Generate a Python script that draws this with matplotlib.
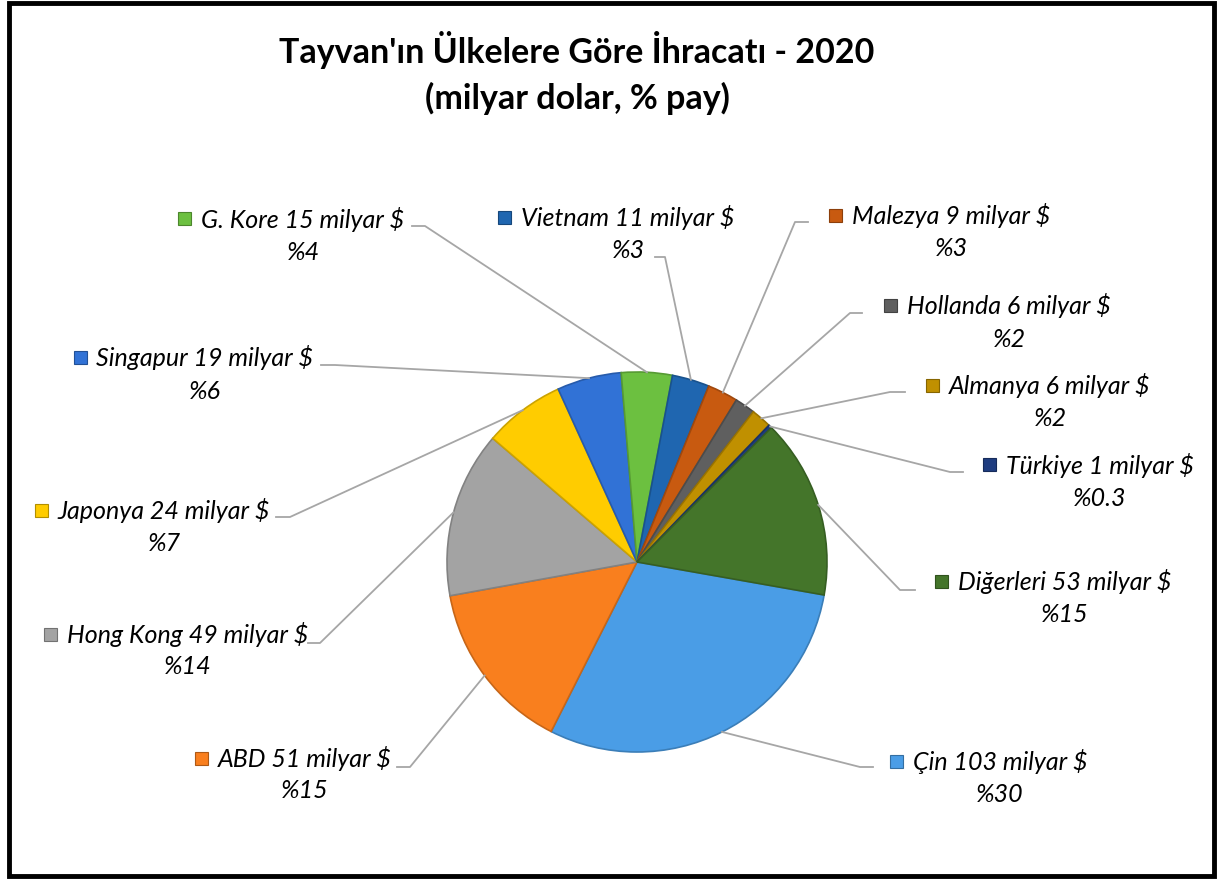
import matplotlib.pyplot as plt
import matplotlib.colors as mcolors
import numpy as np

W, H = 1223, 880

# data, in pie order (clockwise)
countries = ["Çin", "ABD", "Hong Kong", "Japonya", "Singapur", "G. Kore",
             "Vietnam", "Malezya", "Hollanda", "Almanya", "Türkiye", "Diğerleri"]
values = [103, 51, 49, 24, 19, 15, 11, 9, 6, 6, 1, 53]
shares = ["30", "15", "14", "7", "6", "4", "3", "3", "2", "2", "0.3", "15"]
colors = ["#4a9de6", "#f97f1e", "#a3a3a3", "#ffcc00", "#3172d6", "#6cc040",
          "#1f66b0", "#c85a10", "#5f5f5f", "#c09000", "#1f3d80", "#44752a"]

# label layout in pixels: text center x, first line y, leader end x, y, elbow x
layout = {
    "Çin": (1000, 761, 873, 767, 860),
    "ABD": (305, 758, 397, 767, 410),
    "Hong Kong": (188, 634, 308, 643, 320),
    "Japonya": (164, 510, 276, 517, 290),
    "Singapur": (205, 358, 321, 365, 335),
    "G. Kore": (303, 219, 412, 226, 425),
    "Vietnam": (628, 217, 655, 257, 665),
    "Malezya": (951, 216, 808, 222, 795),
    "Hollanda": (1009, 306, 862, 313, 850),
    "Almanya": (1050, 385, 905, 392, 890),
    "Türkiye": (1100, 465, 963, 472, 950),
    "Diğerleri": (1065, 581, 915, 590, 900),
}

plt.rcParams['font.family'] = ['Lato', 'DejaVu Sans']

fig = plt.figure(figsize=(W / 100, H / 100), dpi=100)

def px(x, y):
    return x / W, 1 - y / H

# pie axes: center (637, 562), radius 190
cx, cy, r = 637, 562, 190
ax = fig.add_axes([(cx - r) / W, (H - cy - r) / H, 2 * r / W, 2 * r / H])
edge = [mcolors.to_hex(np.array(mcolors.to_rgb(c)) * 0.8) for c in colors]
wedges, _ = ax.pie(values, colors=colors, startangle=-10, counterclock=False,
                   radius=1.0, wedgeprops=dict(linewidth=1.2))
for w, e in zip(wedges, edge):
    w.set_edgecolor(e)
ax.set_xlim(-1, 1)
ax.set_ylim(-1, 1)
ax.set_aspect('equal')
ax.axis('off')

# title
fig.text(*px(577, 50), "Tayvan'ın Ülkelere Göre İhracatı - 2020", ha='center', va='center',
         fontsize=24.5, fontweight='bold')
fig.text(*px(577, 98), "(milyar dolar, % pay)", ha='center', va='center',
         fontsize=24.5, fontweight='bold')

fig.canvas.draw()
rend = fig.canvas.get_renderer()

for w, name, val, sh, col in zip(wedges, countries, values, shares, colors):
    tx, ty, lx, ly, ex = layout[name]
    mid = np.deg2rad((w.theta1 + w.theta2) / 2)
    # edge point of wedge in pixels
    p = ax.transData.transform((np.cos(mid), np.sin(mid)))
    ex0, ey0 = p[0], H - p[1]
    fig.add_artist(plt.Line2D([ex0 / W, ex / W, lx / W], [1 - ey0 / H, 1 - ly / H, 1 - ly / H],
                              color='#a6a6a6', lw=1.3, transform=fig.transFigure))
    t = fig.text(*px(tx, ty), f"{name} {val} milyar $", ha='center', va='center',
                 fontsize=18, style='italic')
    fig.text(*px(tx, ty + 33), f"%{sh}", ha='center', va='center',
             fontsize=18, style='italic')
    bb = t.get_window_extent(rend)
    sx = bb.x0 - 10 - 13
    fig.add_artist(plt.Rectangle((sx / W, (H - ty - 6.5) / H), 13 / W, 13 / H,
                                 facecolor=col, edgecolor=mcolors.to_hex(np.array(mcolors.to_rgb(col)) * 0.7),
                                 lw=0.8, transform=fig.transFigure))

# frame
fig.add_artist(plt.Rectangle((9 / W, 4 / H), (W - 18) / W, (H - 7) / H, fill=False,
                             edgecolor='black', lw=3.5, transform=fig.transFigure))

fig.savefig("out.png", dpi=100)
